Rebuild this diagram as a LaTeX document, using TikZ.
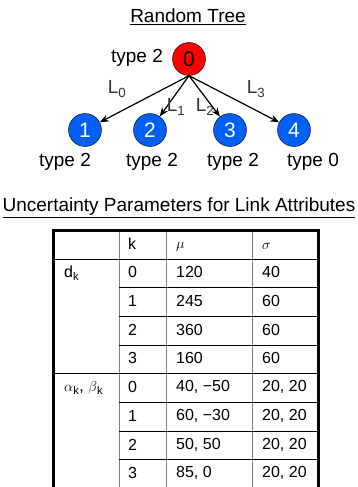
\documentclass[tikz,border=0pt]{standalone}
\usepackage{fontspec}
\setmainfont{Liberation Sans}
\usetikzlibrary{arrows.meta}

\definecolor{nodeblue}{RGB}{0,96,245}
\definecolor{rulegray}{RGB}{128,128,128}
\newcommand{\headfont}{\fontsize{19}{21}\selectfont}
\newcommand{\cellfont}{\fontsize{16}{18}\selectfont}
\newcommand{\greekfont}{\fontsize{15}{16}\selectfont}

\begin{document}
\begin{tikzpicture}[x=1pt, y=-1pt,
	every node/.style={font=\headfont, inner sep=0pt},
	root/.style={circle, draw=black, fill=red, minimum size=33pt, font=\fontsize{21}{21}\selectfont},
	leaf/.style={circle, draw=black, fill=nodeblue, text=white, minimum size=33pt, font=\fontsize{21}{21}\selectfont},
	link/.style={-{Stealth[length=9pt,width=7pt]}, line width=1.2pt},
	linklabel/.style={text=black!80},
	cell/.style={anchor=west, font=\cellfont}]
	\useasboundingbox (0,0) rectangle (357,487);
	% the tree
	\node (treetitle) at (188,17) {\underline{Random Tree}};
	\node[root] (n0) at (189,59) {0};
	\node (t0) at (137,58) {type 2};
	\foreach \i/\x/\lx/\typ in {1/85/65/2, 2/150/152/2, 3/230/233/2, 4/294/313/0} {
		\node[leaf] (n\i) at (\x,130) {\i};
		\node (t\i) at (\lx,162) {type \typ};
		\draw[link] (n0.south) -- (n\i);
	}
	\node[linklabel] (l0) at (117,89) {L\textsubscript{0}};
	\node[linklabel] (l1) at (176,107) {L\textsubscript{1}};
	\node[linklabel] (l2) at (205,107) {L\textsubscript{2}};
	\node[linklabel] (l3) at (256,89) {L\textsubscript{3}};
	% the table
	\node (tabtitle) at (179,208) {\underline{Uncertainty Parameters for Link Attributes}};
	\foreach \x in {119,166,252}
		\draw[rulegray, line width=1pt] (\x,230) -- (\x,490);
	\foreach \i in {0,...,7} {
		\pgfmathsetmacro{\yy}{259+28.7*\i}
		\pgfmathtruncatemacro{\full}{(\i==0 || \i==4) ? 1 : 0}
		\ifnum\full=1
			\draw[line width=1pt] (53,\yy) -- (318,\yy);
		\else
			\draw[line width=1pt] (119,\yy) -- (318,\yy);
		\fi
	}
	\draw[line width=3pt, line join=miter] (53,490) -- (53,230) -- (318,230) -- (318,490);
	\node[cell] (hk) at (128,244) {k};
	\node[cell, font=\greekfont] (hmu) at (176,247) {$\mu$};
	\node[cell, font=\greekfont] (hsig) at (262,246) {$\sigma$};
	\node[cell] (dk) at (64,273) {d\textsubscript{k}};
	\node[cell] (ab) at (64,388) {{\greekfont$\alpha$}\textsubscript{k}, {\greekfont$\beta$}\textsubscript{k}};
	\foreach \k/\m/\s [count=\r from 0] in {0/120/40, 1/245/60, 2/360/60, 3/160/60,
			0/{40, −50}/{20, 20}, 1/{60, −30}/{20, 20}, 2/{50, 50}/{20, 20}, 3/{85, 0}/{20, 20}} {
		\pgfmathsetmacro{\yc}{259+28.7*(\r+0.5)-1}
		\node[cell] (k\r) at (128,\yc) {\k};
		\node[cell] (mu\r) at (176,\yc) {\m};
		\node[cell] (sig\r) at (262,\yc) {\s};
	}
\end{tikzpicture}
\end{document}
